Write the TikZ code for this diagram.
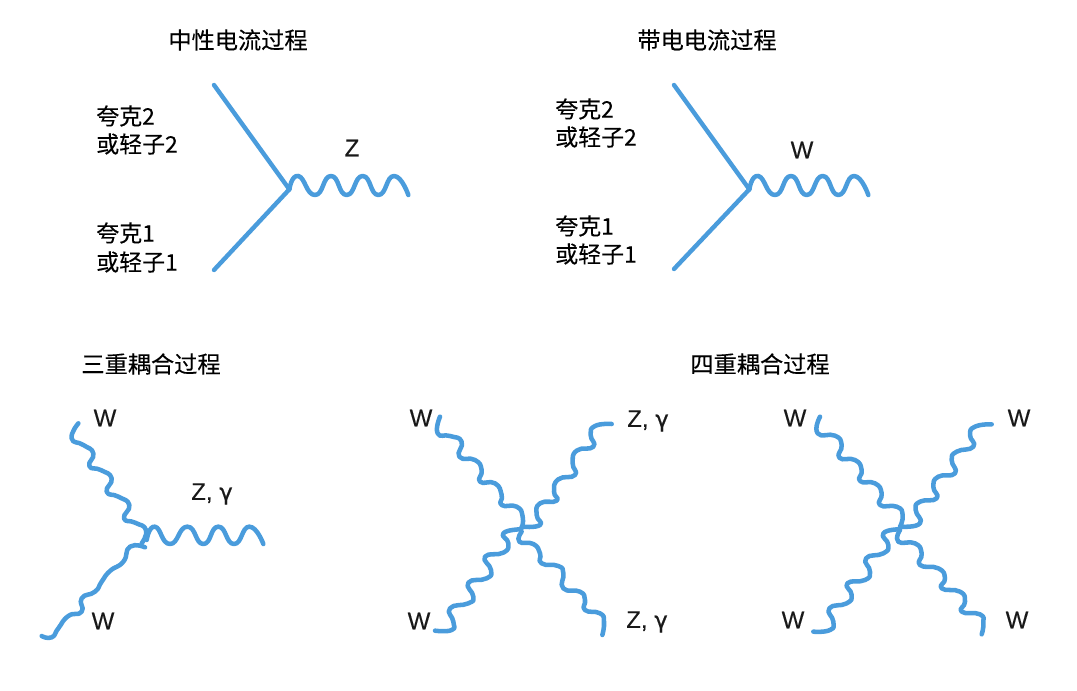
\documentclass[tikz,border=0pt]{standalone}
\usepackage{fontspec}
\setmainfont[FakeBold=0.25]{Liberation Sans}
\newfontfamily\cjk[FakeBold=0.25]{Noto Sans CJK SC}
\newfontfamily\gam[FakeBold=0.8]{DejaVu Sans}
\definecolor{linebl}{HTML}{4A9CDC}
\tikzset{
  x=0.75pt,y=-0.75pt,
  fermion/.style={draw=linebl,line width=3.3pt,line cap=round},
  boson/.style={draw=linebl,line width=3.4pt,line cap=round,line join=round},
  wavy/.style={smooth,tension=0.95},
  title/.style={inner sep=0pt,font=\cjk\fontsize{17.4pt}{20pt}\selectfont,text=black},
  side/.style={inner sep=0pt,anchor=west,font=\cjk\fontsize{17.2pt}{20pt}\selectfont,text=black},
  lab/.style={inner sep=0pt,font=\fontsize{18pt}{20pt}\selectfont,text=black!90}
}
\newcommand{\ZG}{Z, {\gam\fontsize{17pt}{20pt}\selectfont γ}}
\begin{document}
\begin{tikzpicture}
\useasboundingbox (0,0) rectangle (1077,691);
% titles
\node[title] (t1) at (238,40) {中性电流过程};
\node[title] (t2) at (707,40) {带电电流过程};
\node[title] (t3) at (151,364) {三重耦合过程};
\node[title] (t4) at (760,364) {四重耦合过程};
% side labels
\node[side] (a1) at (96,116) {夸克2};
\node[side] (a2) at (96,144) {或轻子2};
\node[side] (a3) at (96,233) {夸克1};
\node[side] (a4) at (96,262) {或轻子1};
\node[side] (b1) at (555,109) {夸克2};
\node[side] (b2) at (555,137) {或轻子2};
\node[side] (b3) at (555,226) {夸克1};
\node[side] (b4) at (555,254) {或轻子1};
% boson labels
\node[lab] (lz) at (352,148) {Z};
\node[lab] (lw) at (802,150) {W};
\node[lab] (c1) at (105,418) {W};
\node[lab] (c2) at (103,621) {W};
\node[lab] (c3) at (212,494) {\ZG};
\node[lab] (d1) at (421,418) {W};
\node[lab] (d2) at (419,621) {W};
\node[lab] (d3) at (648,421) {\ZG};
\node[lab] (d4) at (647,622) {\ZG};
\node[lab] (e1) at (795,418) {W};
\node[lab] (e2) at (1019,418) {W};
\node[lab] (e3) at (793,620) {W};
\node[lab] (e4) at (1017,620) {W};
% neutral current vertex
\begin{scope}[shift={(200,80)},x=0.25pt,y=-0.25pt]
\coordinate (v1) at (268,328);
\coordinate (q1) at (42,15);
\coordinate (q2) at (42,570);
\draw[fermion] (q1) -- (v1);
\draw[fermion] (q2) -- (v1);
\draw[boson] plot[wavy] coordinates {(268,328)(295,288)(345,345)(393,288)(440,345)(488,288)(535,345)(582,288)(625,345)};
\end{scope}
% charged current vertex
\begin{scope}[shift={(660,80)},x=0.25pt,y=-0.25pt]
\coordinate (v2) at (268,328);
\coordinate (q3) at (42,15);
\coordinate (q4) at (42,567);
\draw[fermion] (q3) -- (v2);
\draw[fermion] (q4) -- (v2);
\draw[boson] plot[wavy] coordinates {(268,328)(295,288)(345,345)(393,288)(440,345)(488,288)(535,345)(582,288)(625,345)};
\end{scope}
% triple coupling
\begin{scope}[shift={(30,390)},x=0.25pt,y=-0.25pt]
\draw[boson] plot[wavy] coordinates {(145,100)(125,145)(160,165)(190,190)(178,228)(212,240)(245,265)(230,305)(265,320)(298,345)(282,385)(315,398)(348,420)(335,460)};
\draw[boson] plot[wavy] coordinates {(345,472)(300,470)(280,515)(240,543)(215,575)(195,605)(155,625)(155,665)(115,678)(85,715)(65,742)(35,738)};
\draw[boson] plot[wavy] coordinates {(350,450)(375,410)(420,462)(472,410)(520,462)(565,410)(612,462)(658,410)(700,462)};
\end{scope}
% quartic Z gamma
\begin{scope}[shift={(400,400)},x=0.25pt,y=-0.25pt]
\draw[boson] plot[wavy] coordinates {(120,50)(113,100)(150,108)(185,125)(178,170)(225,180)(245,210)(240,245)(285,250)(305,285)(305,315)(350,320)(368,350)(365,385)};
\draw[boson] plot[wavy] coordinates {(635,72)(585,78)(572,105)(580,140)(530,152)(518,190)(525,225)(475,238)(462,275)(470,302)(420,310)(410,345)(420,375)(365,380)};
\draw[boson] plot[wavy] coordinates {(105,692)(155,690)(160,665)(150,625)(205,610)(220,590)(205,548)(260,535)(273,510)(255,470)(310,458)(325,430)(310,400)(360,388)};
\draw[boson] plot[wavy] coordinates {(365,395)(358,425)(400,432)(420,460)(425,490)(475,498)(490,520)(490,565)(540,575)(555,600)(555,630)(600,640)(612,665)(607,705)};
\end{scope}
% quartic W
\begin{scope}[shift={(770,395)},x=0.25pt,y=-0.25pt]
\draw[boson] plot[wavy] coordinates {(150,65)(143,115)(195,122)(215,150)(208,188)(255,195)(275,225)(270,258)(315,265)(335,295)(330,330)(380,335)(398,360)(390,395)};
\draw[boson] plot[wavy] coordinates {(665,88)(615,95)(600,120)(610,155)(560,170)(545,195)(555,235)(505,245)(490,275)(500,310)(450,320)(437,345)(450,385)(395,395)};
\draw[boson] plot[wavy] coordinates {(130,710)(180,705)(190,680)(178,640)(230,625)(245,600)(232,565)(285,555)(300,530)(288,490)(340,475)(355,450)(340,415)(390,403)};
\draw[boson] plot[wavy] coordinates {(390,405)(385,440)(435,445)(455,475)(450,510)(505,520)(525,550)(515,580)(570,590)(585,620)(575,650)(630,658)(640,685)(635,718)};
\end{scope}
\end{tikzpicture}
\end{document}
